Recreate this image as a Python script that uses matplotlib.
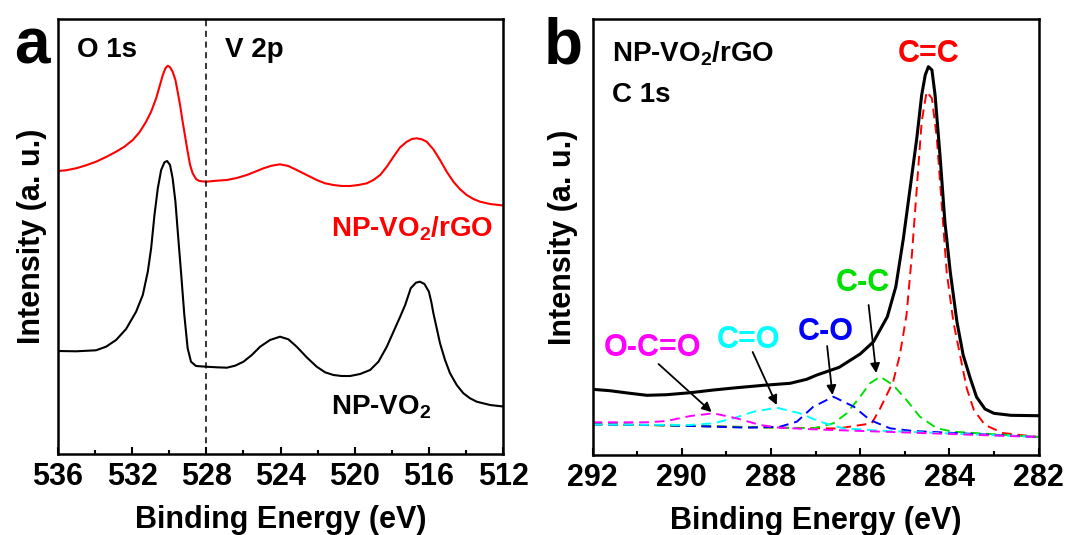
import matplotlib
matplotlib.use("Agg")
import matplotlib.pyplot as plt
from matplotlib.ticker import MultipleLocator

plt.rcParams['font.family'] = ['Liberation Sans', 'DejaVu Sans']
plt.rcParams['font.weight'] = 'bold'
plt.rcParams['mathtext.fontset'] = 'custom'
plt.rcParams['mathtext.rm'] = 'Liberation Sans:bold'
plt.rcParams['mathtext.it'] = 'Liberation Sans:bold'
plt.rcParams['mathtext.bf'] = 'Liberation Sans:bold'

# ---- panel a: O 1s / V 2p (intensity in arbitrary units) ----
rgo_e = [536.0, 535.57, 535.03, 534.49, 533.95, 533.41, 532.87, 532.42, 531.97, 531.61,
         531.25, 530.98, 530.71, 530.53, 530.35, 530.21, 530.08, 529.96, 529.82, 529.67,
         529.55, 529.42, 529.28, 529.13, 529.01, 528.88, 528.74, 528.56, 528.38, 528.02,
         527.44, 526.9, 526.36, 525.82, 525.37, 524.92, 524.48, 524.03, 523.58, 523.13,
         522.59, 522.05, 521.6, 521.15, 520.7, 520.25, 519.8, 519.35, 518.99, 518.63,
         518.27, 517.91, 517.55, 517.19, 516.92, 516.66, 516.39, 516.12, 515.76, 515.4,
         515.04, 514.68, 514.32, 513.96, 513.6, 513.24, 512.7, 512.0]
rgo_i = [283, 283.7, 285.7, 288.7, 292.3, 297, 302.3, 307.3, 314, 321.7,
         332.3, 342.3, 355.7, 367.3, 379, 385.7, 388.3, 386.7, 382.3, 374,
         362.3, 349, 332.3, 315.7, 302.3, 289, 280.7, 275, 273, 272.3,
         273.3, 274, 276, 279, 282.3, 285.7, 288.3, 289.7, 288, 284,
         279, 274, 270.7, 269, 268, 268, 269, 270.7, 274, 279,
         287.3, 297.3, 306.7, 312.3, 315, 315.7, 314.7, 312.3, 304.7, 294,
         282.3, 272.3, 264.7, 259, 255, 252.3, 250, 248.5]

vo2_e = [536.0, 535.03, 533.95, 533.41, 532.87, 532.33, 531.79, 531.43, 531.16, 530.98,
         530.8, 530.62, 530.44, 530.26, 530.12, 529.96, 529.82, 529.67, 529.53, 529.37,
         529.19, 529.01, 528.83, 528.56, 528.02, 527.44, 526.9, 526.45, 526.0, 525.55,
         525.1, 524.57, 524.03, 523.58, 523.13, 522.59, 522.05, 521.6, 521.15, 520.7,
         520.25, 519.71, 519.17, 518.72, 518.27, 517.91, 517.55, 517.28, 516.98, 516.7,
         516.48, 516.24, 516.0, 515.87, 515.76, 515.4, 515.13, 514.86, 514.5, 514.14,
         513.78, 513.42, 512.7, 512.0]
vo2_i = [103, 102.7, 103.7, 107.3, 114, 125, 142.3, 159, 182.3, 205.7,
         239, 265.7, 284, 291.7, 293, 289, 275.7, 252.3, 219, 182.3,
         139, 105.7, 92.3, 88, 87.3, 86.7, 86.3, 88.3, 92.3, 99,
         107.3, 114, 117.3, 114.7, 107.3, 96.7, 87.3, 81.7, 79, 78,
         78, 80, 84, 92.3, 107.3, 122.3, 137.3, 149, 165.7, 171.3,
         172.3, 170, 162.3, 152, 141, 110.7, 94, 80.7, 69, 60.7,
         55.7, 52.3, 49, 47.5]

# ---- panel b: C 1s of NP-VO2/rGO ----
c1s_e = [292.0, 291.61, 291.16, 290.78, 290.34, 289.81, 289.29, 288.77, 288.17, 287.57,
         287.2, 286.97, 286.47, 286.0, 285.7, 285.39, 285.2, 285.03, 284.88, 284.73,
         284.62, 284.54, 284.47, 284.39, 284.32, 284.21, 284.1, 283.98, 283.83, 283.69,
         283.54, 283.39, 283.2, 283.0, 282.62, 282.0]
c1s_i = [65.7, 64.3, 61.7, 59.7, 60.3, 62.3, 65, 67.3, 69.7, 71.7,
         75.7, 80, 87.7, 101, 113.3, 138.3, 168.3, 216.7, 266.7, 316.7,
         360, 380, 388.3, 385, 360, 300, 233.3, 183.3, 133.3, 100,
         78, 58, 46, 41.7, 39.7, 39.3]

cc2_e = [292, 288, 286.5, 285.74, 285.55, 285.26, 285.11, 284.96, 284.84, 284.73, 284.62,
         284.51, 284.39, 284.28, 284.17, 284.06, 283.91, 283.76, 283.61, 283.45, 283.2, 282.8, 282]
cc2_i = [31, 27.5, 26.5, 31.7, 46.7, 73.3, 100, 140, 200, 266.7, 333.3,
         363.3, 356.7, 316.7, 250, 183.3, 133.3, 100, 66.7, 45, 30, 22, 18]

cc1_e = [292, 288, 287.05, 286.6, 286.3, 286.0, 285.78, 285.55, 285.26, 284.96, 284.66, 284.28, 283.91, 282]
cc1_i = [31, 27.5, 26.7, 31.7, 41.7, 58.3, 71.7, 78.3, 70, 55, 38.3, 26.7, 23.3, 18]

co_e = [292, 290.56, 289.21, 288.54, 287.8, 287.42, 287.05, 286.6, 286.14, 285.78, 285.33, 284.81, 282]
co_i = [30.5, 30, 28.3, 27.3, 28.3, 33.3, 48.3, 58.3, 48.3, 35, 26.7, 24, 18]

cdo_e = [292, 289.81, 289.29, 288.84, 288.39, 287.87, 287.35, 286.9, 286.38, 285.55, 282]
cdo_i = [30.5, 30, 31.7, 36.7, 43.3, 47.3, 41.7, 33.3, 26.7, 24.3, 18]

occo_e = [292, 290.78, 290.34, 289.81, 289.29, 288.77, 288.24, 287.8, 287.05, 282]
occo_i = [32.7, 32.7, 34, 39, 41.7, 36.7, 30, 27.3, 25.7, 18]

comp_names = ['C=C', 'C-C', 'C-O', 'C=O', 'O-C=O']
comp_colors = ['#ff0000', '#00e000', '#0000ff', '#00ffff', '#ff00ff']
comp_e = [cc2_e, cc1_e, co_e, cdo_e, occo_e]
comp_i = [cc2_i, cc1_i, co_i, cdo_i, occo_i]
# label centre, arrow tail, arrow head (None = no arrow)
comp_text = [(284.46, 401), (285.93, 172), (286.76, 123), (288.51, 115), (290.66, 107)]
comp_tail = [None, (285.81, 150), (286.74, 109), (288.41, 103), (290.52, 91)]
comp_head = [None, (285.64, 82), (286.62, 60), (287.87, 50), (289.33, 43)]

a_ticks = [536, 532, 528, 524, 520, 516, 512]
b_ticks = [292, 290, 288, 286, 284, 282]

fig = plt.figure(figsize=(10.69, 5.35), dpi=100)
ax1 = fig.add_axes([0.0543, 0.1514, 0.4163, 0.8131])
ax2 = fig.add_axes([0.5543, 0.1495, 0.4172, 0.8150])


def style(ax, ticks, minor):
    ax.set_xticks(ticks)
    ax.xaxis.set_minor_locator(MultipleLocator(minor))
    ax.set_yticks([])
    ax.tick_params(axis='x', which='major', direction='in', length=5, width=1.5,
                   labelsize=22, pad=6, top=False)
    ax.tick_params(axis='x', which='minor', direction='in', length=3, width=1.5, top=False)
    for s in ax.spines.values():
        s.set_linewidth(1.8)
    ax.set_xlabel('Binding Energy (eV)', fontsize=22, fontweight='bold', labelpad=9)
    ax.set_ylabel('Intensity (a. u.)', fontsize=22, fontweight='bold', va='center')


# panel a
ax1.plot(rgo_e, rgo_i, color='#ff0000', lw=1.5)
ax1.plot(vo2_e, vo2_i, color='k', lw=1.5)
ax1.axvline(528, color='k', lw=1.1, ls=(0, (4, 3)))
ax1.set_xlim(536, 512)
ax1.set_ylim(0, 435)
style(ax1, a_ticks, 2)
ax1.yaxis.set_label_coords(-0.058, 0.5)
ax1.text(534.96, 404, 'O 1s', fontsize=20, fontweight='bold', va='center', ha='left')
ax1.text(527.0, 404, 'V 2p', fontsize=20, fontweight='bold', va='center', ha='left')
ax1.text(521.3, 225, 'NP-VO$_2$/rGO', color='#ff0000', fontsize=20, fontweight='bold',
         va='center', ha='left')
ax1.text(521.3, 47, 'NP-VO$_2$', color='k', fontsize=20, fontweight='bold',
         va='center', ha='left')

# panel b
ax2.plot(c1s_e, c1s_i, color='k', lw=2.2, zorder=3)
for e, i, c in zip(comp_e, comp_i, comp_colors):
    ax2.plot(e, i, color=c, lw=1.4, ls=(0, (5, 3)))
for name, c, t, tail, head in zip(comp_names, comp_colors, comp_text, comp_tail, comp_head):
    ax2.text(t[0], t[1], name, color=c, fontsize=22, fontweight='bold', ha='center', va='center')
    if tail is not None:
        ax2.annotate('', xy=head, xytext=tail,
                     arrowprops=dict(arrowstyle='-|>', color='k', lw=1.3,
                                     mutation_scale=14, shrinkA=0, shrinkB=0))
ax2.set_xlim(292, 282)
ax2.set_ylim(0, 436)
style(ax2, b_ticks, 1)
ax2.yaxis.set_label_coords(-0.066, 0.5)
ax2.text(291.57, 401, 'NP-VO$_2$/rGO', fontsize=20, fontweight='bold', va='center', ha='left')
ax2.text(291.57, 360, 'C 1s', fontsize=20, fontweight='bold', va='center', ha='left')

fig.text(0.030, 0.882, 'a', fontsize=46, fontweight='bold', ha='center', va='baseline')
fig.text(0.527, 0.882, 'b', fontsize=46, fontweight='bold', ha='center', va='baseline')

fig.savefig('out.png', dpi=100)
